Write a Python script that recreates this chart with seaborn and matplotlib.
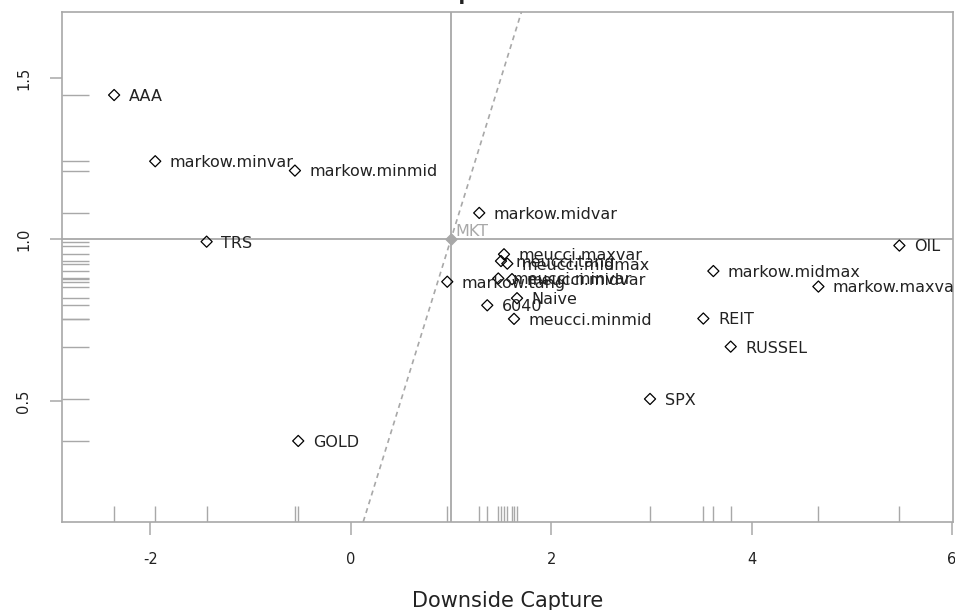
import matplotlib
matplotlib.use("Agg")
import matplotlib.pyplot as plt
import seaborn as sns
import pandas as pd

# capture ratios
names = ["AAA", "markow.minvar", "markow.minmid", "TRS", "markow.midvar",
         "OIL", "meucci.maxvar", "meucci.tang", "meucci.midmax",
         "markow.midmax", "meucci.minvar", "meucci.midvar", "markow.tang",
         "markow.maxvar", "Naive", "6040", "meucci.minmid", "REIT",
         "RUSSEL", "SPX", "GOLD"]
downside = [-2.36, -1.95, -0.556, -1.437, 1.283,
            5.475, 1.53, 1.50, 1.563,
            3.619, 1.473, 1.61, 0.964,
            4.667, 1.66, 1.363, 1.63, 3.519,
            3.792, 2.987, -0.523]
upside = [1.447, 1.242, 1.213, 0.993, 1.082,
          0.981, 0.954, 0.933, 0.925,
          0.902, 0.879, 0.877, 0.869,
          0.854, 0.818, 0.796, 0.754, 0.755,
          0.668, 0.506, 0.376]

bench_name = "MKT"
bench_down = [1.0]
bench_up = [1.0]

x_ticks = [-2, 0, 2, 4, 6]
y_ticks = [0.5, 1.0, 1.5]
y_tick_labels = ["0.5", "1.0", "1.5"]

GRAY = "#A8A8A8"
TEXT = "#222222"

sns.set_theme(style="white")
plt.rcParams["font.family"] = ["DejaVu Sans"]
plt.rcParams["axes.unicode_minus"] = False

df = pd.DataFrame({"name": names, "down": downside, "up": upside})
bench = pd.DataFrame({"down": bench_down, "up": bench_up})

fig = plt.figure(figsize=(9.55, 6.1), dpi=100)
ax = fig.add_axes([62 / 955, 1 - 521.7 / 610, (953 - 62) / 955, (521.7 - 11.7) / 610])

# reference lines through the benchmark and the diagonal
ax.axvline(bench_down[0], color=GRAY, lw=1.3, zorder=1)
ax.axhline(bench_up[0], color=GRAY, lw=1.3, zorder=1)
ax.axline((0, 0), slope=1, color=GRAY, lw=1.2, ls=(0, (3, 2.5)), zorder=1)

sns.rugplot(data=df, x="down", y="up", height=0.03, color=GRAY, lw=1.1, ax=ax)

sns.scatterplot(data=df, x="down", y="up", marker="D", s=32,
                facecolor="none", edgecolor="black", linewidth=0.9,
                ax=ax, zorder=3)
sns.scatterplot(data=bench, x="down", y="up", marker="D", s=32,
                color=GRAY, edgecolor=GRAY, linewidth=0.9, ax=ax, zorder=3)

# labels sit to the right of each point, clipped at the frame like R does
for name, x, y in zip(names, downside, upside):
    t = ax.annotate(name, (x, y), xytext=(10.5, -1), textcoords="offset points",
                    ha="left", va="center", fontsize=11.5, color=TEXT)
    t.set_clip_on(True)
ax.annotate(bench_name, (bench_down[0], bench_up[0]), xytext=(3.5, 6),
            textcoords="offset points", ha="left", va="center",
            fontsize=11.5, color=GRAY)

ax.set_xlim(-2.88, 6.01)
ax.set_ylim(0.126, 1.705)
ax.set_xticks(x_ticks)
ax.set_yticks(y_ticks)
ax.set_yticklabels(y_tick_labels, rotation=90, va="center")
ax.tick_params(direction="out", length=9, width=1.1, color=GRAY, pad=13,
               labelsize=10.5, labelcolor=TEXT, bottom=True, left=True)

for side in ["left", "right", "top", "bottom"]:
    ax.spines[side].set_visible(True)
    ax.spines[side].set_color(GRAY)
    ax.spines[side].set_linewidth(1.2)

ax.set_xlabel("Downside Capture", fontsize=15, color=TEXT)
ax.xaxis.set_label_coords(0.5, -0.156)
ax.xaxis.label.set_va("center")
ax.set_ylabel("")

fig.text(507 / 955, 1.0, "Capture Ratio", ha="center", va="baseline",
         fontsize=14, fontweight="bold", color=TEXT)

fig.savefig("out.png", dpi=100)
plt.close(fig)
